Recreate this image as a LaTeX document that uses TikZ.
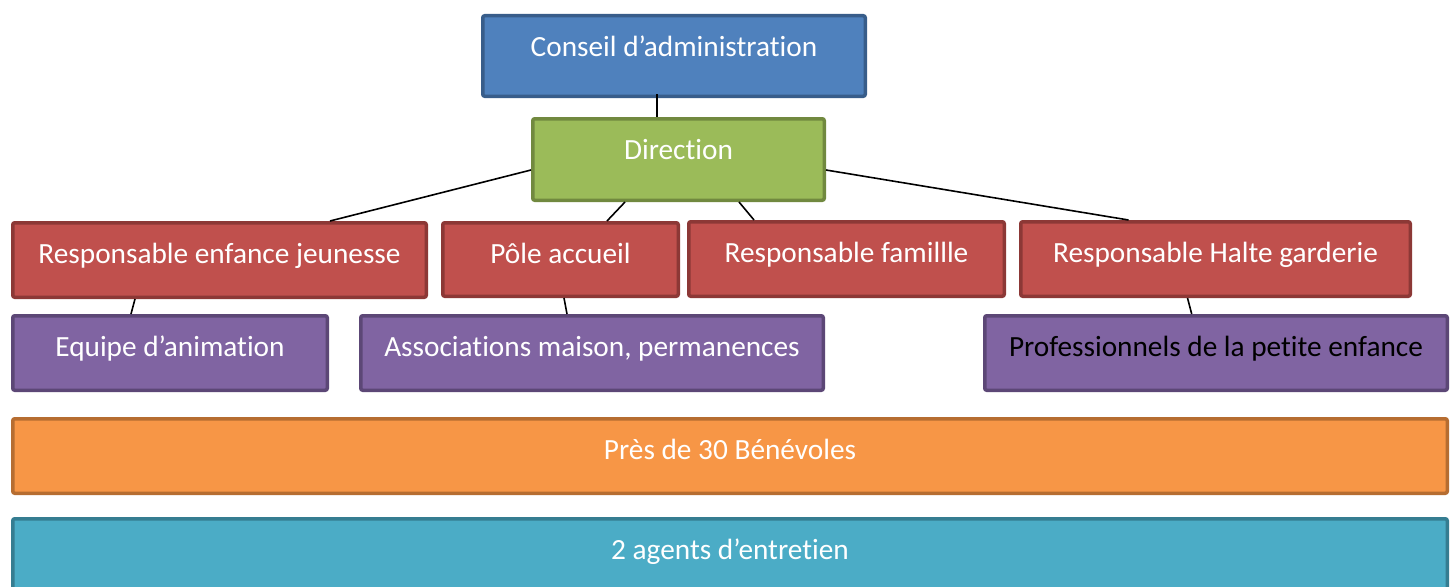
\documentclass[tikz,border=0pt]{standalone}
\usepackage{fontspec}
\setmainfont{Carlito}[Ligatures={NoCommon}]
\usetikzlibrary{calc}
\definecolor{cBlue}{HTML}{4F81BD}\definecolor{cBlueD}{HTML}{385D8A}
\definecolor{cGreen}{HTML}{9BBB59}\definecolor{cGreenD}{HTML}{71893F}
\definecolor{cRed}{HTML}{C0504D}\definecolor{cRedD}{HTML}{8C3836}
\definecolor{cPurple}{HTML}{8064A2}\definecolor{cPurpleD}{HTML}{5C4776}
\definecolor{cOrange}{HTML}{F79646}\definecolor{cOrangeD}{HTML}{B66D31}
\definecolor{cTeal}{HTML}{4BACC6}\definecolor{cTealD}{HTML}{357D91}
\tikzset{
  orgbox/.style={rectangle, rounded corners=2pt, line width=3.5pt, inner sep=0pt,
    font=\fontsize{29.3}{34}\selectfont, text=white, text depth=12pt, text height=19.7pt},
  highbox/.style={orgbox, text height=12.7pt},
  blueb/.style={highbox, fill=cBlue, draw=cBlueD},
  greenb/.style={highbox, fill=cGreen, draw=cGreenD},
  redb/.style={orgbox, fill=cRed, draw=cRedD},
  purpleb/.style={orgbox, fill=cPurple, draw=cPurpleD},
  orangeb/.style={orgbox, fill=cOrange, draw=cOrangeD},
  tealb/.style={orgbox, fill=cTeal, draw=cTealD},
  link/.style={line width=1.6pt, black}
}
\begin{document}
\begin{tikzpicture}[x=1pt,y=-1pt]
\useasboundingbox (0,0) rectangle (1450,586);
\fill[white] (0,0) rectangle (1450,586);
\begin{scope}
\clip (0,0) rectangle (1450,586);
\node[blueb, minimum width=382.5pt, minimum height=80.5pt] (conseil) at (674,56) {Conseil d’administration};
\node[greenb, minimum width=291.5pt, minimum height=81.5pt] (direction) at (678.5,159.5) {Direction};
\node[redb, minimum width=413.5pt, minimum height=74.5pt] (enfance) at (219.5,260) {Responsable enfance jeunesse};
\node[redb, minimum width=235.5pt, minimum height=73.5pt] (pole) at (560.5,259.5) {Pôle accueil};
\node[redb, minimum width=315.5pt, minimum height=74.5pt] (famille) at (846.5,259) {Responsable famillle};
\node[redb, minimum width=389.5pt, minimum height=74.5pt] (halte) at (1215.5,259) {Responsable Halte garderie};
\node[purpleb, minimum width=314.5pt, minimum height=74.5pt] (equipe) at (170,353) {Equipe d’animation};
\node[purpleb, minimum width=462.5pt, minimum height=74.5pt] (assoc) at (592,353) {Associations maison, permanences};
\node[purpleb, minimum width=462.5pt, minimum height=74.5pt, text=black] (prof) at (1216,353) {Professionnels de la petite enfance};
\node[orangeb, minimum width=1434.5pt, minimum height=74.5pt] (benevoles) at (730,456) {Près de 30 Bénévoles};
\node[tealb, minimum width=1434.5pt, minimum height=74.5pt] (agents) at (730,556) {2 agents d’entretien};
\draw[link] ($(conseil.south)+(-17,-4)$) -- ($(direction.north)+(-21.5,0)$);
\draw[link] ($(direction.west)+(0,10.5)$) -- ($(enfance.north)+(110.5,0)$);
\draw[link] ($(direction.south)+(-53.5,0)$) -- ($(pole.north)+(46.5,0)$);
\draw[link] ($(direction.south)+(60.5,0)$) -- ($(famille.north)+(-92.5,0)$);
\draw[link] ($(direction.east)+(0,10.5)$) -- ($(halte.north)+(-87,0)$);
\draw[link] ($(enfance.south)+(-84.5,0)$) -- ($(equipe.north)+(-39,0)$);
\draw[link] ($(pole.south)+(3.5,0)$) -- ($(assoc.north)+(-25,0)$);
\draw[link] ($(halte.south)+(-28,0)$) -- ($(prof.north)+(-24.3,0)$);
\end{scope}
\end{tikzpicture}
\end{document}
